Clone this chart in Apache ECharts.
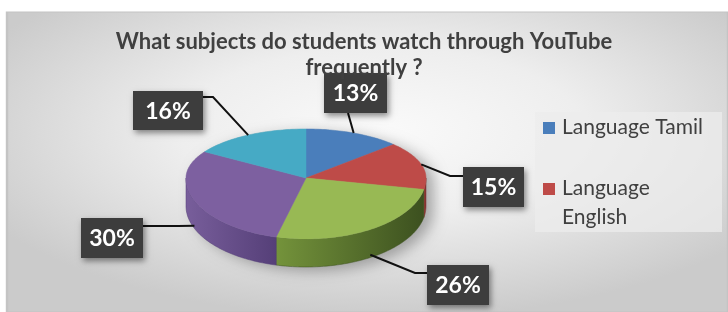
<!DOCTYPE html>
<html>
<head>
<meta charset="utf-8">
<script src="https://cdn.jsdelivr.net/npm/echarts@6/dist/echarts.min.js"></script>
<style>
  html, body { margin: 0; background: #fff; }
  #chart { width: 728px; height: 312px; }
</style>
</head>
<body>
<div id="chart"></div>
<script>
// data
const categories = ['Language Tamil', 'Language English', 'Category 3', 'Category 4', 'Category 5']
const values = [13, 15, 26, 30, 16]
const legendShown = 2 // only the first two entries fit in the legend box

// styles
const topColors = ['#4a7ebb', '#be4b48', '#98b954', '#7d60a0', '#46aac5']
const sideColors = [
  ['#436fa5', '#2f4f7a'],
  ['#a94441', '#7a2f2d'],
  ['#74933b', '#3c501f'],
  ['#785e9b', '#553f78'],
  ['#3f97ae', '#2b6b7d']
]

// pie geometry (back half of the ellipse is flatter, fakes perspective)
const cx = 306, cy = 178, rx = 120, ryBack = 49, ryFront = 61, depth = 28

// label boxes [x, y, w, h] and leader lines
const labelBoxes = [[324, 73, 63, 40], [463, 167, 61, 40], [427, 265, 62, 40], [81, 218, 62, 40], [133, 91, 70, 39]]
const labelElbows = [null, [450, 176], [415, 273], [178, 226], [213, 97]]
const labelAttach = [[348, 113], [463, 176], [427, 273], [143, 226], [203, 97]]

const total = values.reduce((a, b) => a + b, 0)

function pt(theta, dy) {
  const s = Math.sin(theta)
  const c = Math.cos(theta)
  const ry = c > 0 ? ryBack : ryFront
  return [cx + rx * s, cy - ry * c + (dy || 0)]
}

function arc(a0, a1, dy) {
  const pts = []
  const n = Math.max(2, Math.ceil((a1 - a0) / 0.02))
  for (let k = 0; k <= n; k++) {
    pts.push(pt(a0 + (a1 - a0) * k / n, dy))
  }
  return pts
}

function renderItem(params, api) {
  const i = params.dataIndex
  let before = 0
  for (let k = 0; k < i; k++) before += values[k]
  const a0 = before / total * Math.PI * 2
  const a1 = (before + api.value(0)) / total * Math.PI * 2
  const children = []

  if (i === 0) {
    // soft shadow under the whole pie
    const outline = arc(Math.PI / 2, Math.PI * 1.5, depth).concat(arc(Math.PI * 1.5, Math.PI * 2.5, 0))
    children.push({
      type: 'polygon',
      z2: 0,
      shape: { points: outline },
      style: { fill: '#bbb', shadowBlur: 14, shadowColor: 'rgba(0,0,0,0.3)', shadowOffsetX: 8, shadowOffsetY: 4 }
    })
  }

  // front wall
  const w0 = Math.max(a0, Math.PI / 2)
  const w1 = Math.min(a1, Math.PI * 1.5)
  if (w1 > w0) {
    const topEdge = arc(w0, w1, 0)
    const bottomEdge = arc(w0, w1, depth).reverse()
    children.push({
      type: 'polygon',
      z2: 1,
      shape: { points: topEdge.concat(bottomEdge) },
      style: {
        fill: new echarts.graphic.LinearGradient(0, 0, 1, 0, [
          { offset: 0, color: sideColors[i][0] },
          { offset: 1, color: sideColors[i][1] }
        ]),
        stroke: sideColors[i][1],
        lineWidth: 0.5
      }
    })
  }

  // top face
  children.push({
    type: 'polygon',
    z2: 2,
    shape: { points: [[cx, cy]].concat(arc(a0, a1, 0)) },
    style: { fill: topColors[i], stroke: topColors[i], lineWidth: 0.5 }
  })

  // leader line
  const mid = (a0 + a1) / 2
  const front = Math.cos(mid) < 0
  const anchor = pt(mid, front ? depth * 0.9 : 0)
  const linePts = [anchor]
  if (labelElbows[i]) linePts.push(labelElbows[i])
  linePts.push(labelAttach[i])
  children.push({
    type: 'polyline',
    z2: 3,
    shape: { points: linePts },
    style: { stroke: '#111', lineWidth: 2, fill: null }
  })

  // label box
  const b = labelBoxes[i]
  children.push({
    type: 'rect',
    z2: 4,
    shape: { x: b[0], y: b[1], width: b[2], height: b[3] },
    style: { fill: '#3d3d3d', shadowBlur: 6, shadowColor: 'rgba(0,0,0,0.45)', shadowOffsetX: 2, shadowOffsetY: 3 }
  })
  children.push({
    type: 'text',
    z2: 5,
    style: {
      x: b[0] + b[2] / 2,
      y: b[1] + b[3] / 2 + 1,
      text: Math.round(api.value(0) / total * 100) + '%',
      align: 'center',
      verticalAlign: 'middle',
      fill: '#fff',
      font: 'bold 23px Lato, sans-serif'
    }
  })

  return { type: 'group', children: children }
}

const legendGraphics = [
  {
    type: 'rect', z: 1,
    shape: { x: 535, y: 112, width: 187, height: 120 },
    style: { fill: 'rgba(236,236,236,0.75)' }
  }
]
categories.slice(0, legendShown).forEach((name, i) => {
  const y = i === 0 ? 122 : 183
  legendGraphics.push({
    type: 'rect', z: 2,
    shape: { x: 543, y: y, width: 12, height: 12 },
    style: { fill: topColors[i] }
  })
  legendGraphics.push({
    type: 'text', z: 2,
    style: {
      x: 562,
      y: y - 9,
      text: i === 0 ? name : name.replace(' ', '\n'),
      fill: '#404040',
      font: '21px Lato, sans-serif',
      lineHeight: 29
    }
  })
})

const chart = echarts.init(document.getElementById('chart'))
chart.setOption({
  animation: false,
  title: {
    text: 'What subjects do students watch through YouTube\nfrequently ?',
    left: 'center',
    top: 24,
    textStyle: {
      fontFamily: 'Lato',
      fontSize: 22,
      fontWeight: 'bold',
      color: '#404040',
      lineHeight: 26
    }
  },
  graphic: [
    {
      type: 'rect', z: -10,
      x: 7, y: 12, scaleX: 721 / 300,
      shape: { x: 0, y: 0, width: 300, height: 300 },
      style: {
        fill: new echarts.graphic.RadialGradient(0.52, 0.4, 0.62, [
          { offset: 0, color: '#fafafa' },
          { offset: 0.45, color: '#eeeeee' },
          { offset: 1, color: '#cbcbcb' }
        ]),
        stroke: '#c4c4c4',
        lineWidth: 1
      }
    }
  ].concat(legendGraphics),
  series: [{
    type: 'custom',
    coordinateSystem: 'none',
    renderItem: renderItem,
    data: values.map((v, i) => ({ name: categories[i], value: [v] }))
  }]
})
</script>
</body>
</html>
